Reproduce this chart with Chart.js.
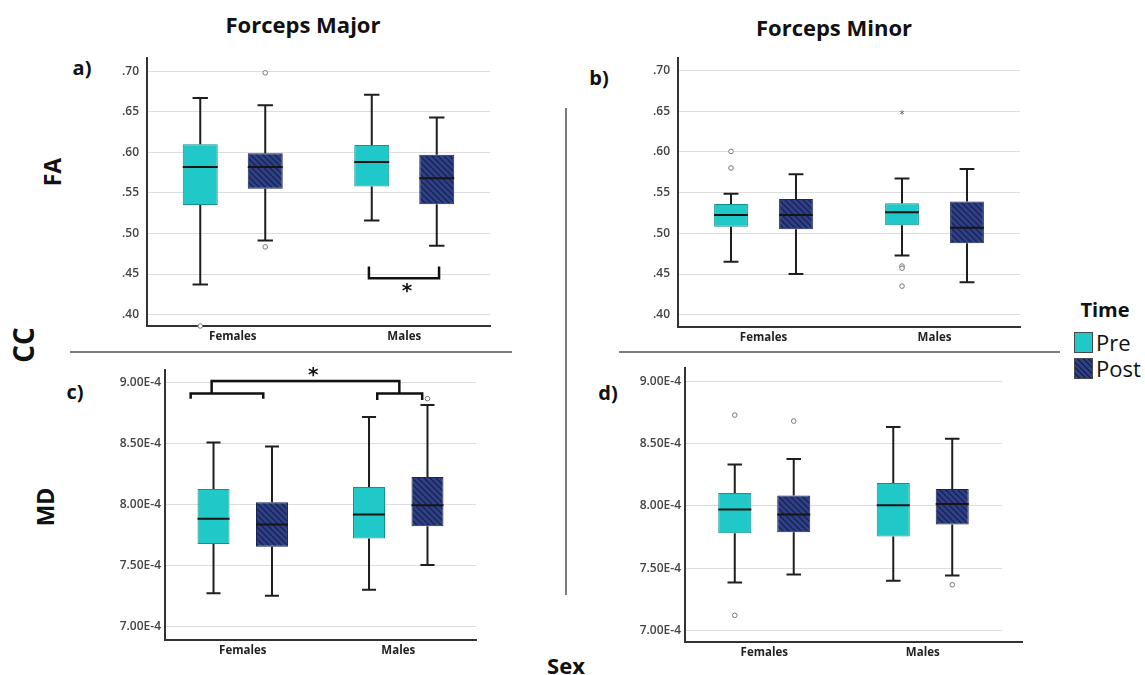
<!DOCTYPE html>
<html><head><meta charset="utf-8">
<script src="https://cdn.jsdelivr.net/npm/chart.js@4"></script>
<style>
body{margin:0;width:1145px;height:675px;background:#fff;position:relative;overflow:hidden;font-family:"Open Sans",sans-serif;}
.t{position:absolute;font-weight:700;color:#111;white-space:nowrap;line-height:1;transform:translate(-50%,-50%);}
.r{transform:translate(-50%,-50%) rotate(-90deg);}
canvas{position:absolute;}
.ln{position:absolute;background:#7c7c7c;}
.sw{position:absolute;width:17px;height:19px;border:1px solid #4a4a4a;}
.lg{position:absolute;font-size:22px;color:#111;line-height:1;transform:translateY(-50%);}
</style></head><body>

<div class="t" style="left:303px;top:24px;font-size:22px;">Forceps Major</div>
<div class="t" style="left:834px;top:27px;font-size:22px;">Forceps Minor</div>
<div class="t" style="left:82px;top:68px;font-size:20px;">a)</div>
<div class="t" style="left:599px;top:78px;font-size:20px;">b)</div>
<div class="t" style="left:75px;top:392px;font-size:20px;">c)</div>
<div class="t" style="left:608px;top:393px;font-size:20px;">d)</div>
<div class="t r" style="left:52px;top:172px;font-size:23px;">FA</div>
<div class="t r" style="left:45px;top:507px;font-size:23px;">MD</div>
<div class="t r" style="left:23px;top:345px;font-size:28px;">CC</div>
<div class="t" style="left:566px;top:665px;font-size:22px;">Sex</div>
<div class="t" style="left:1105px;top:310px;font-size:20px;">Time</div>

<div class="ln" style="left:70px;top:351px;width:442px;height:2px;"></div>
<div class="ln" style="left:619px;top:351px;width:441px;height:2px;"></div>
<div class="ln" style="left:565px;top:108px;width:2px;height:487px;"></div>

<div class="sw" style="left:1074px;top:332px;background:#21c8c8;"></div>
<div class="sw" style="left:1074px;top:358px;background:repeating-linear-gradient(45deg,#2e4088 0px,#2e4088 2.5px,#18234f 2.5px,#18234f 4px);"></div>
<div class="lg" style="left:1096px;top:342px;">Pre</div>
<div class="lg" style="left:1096px;top:368px;">Post</div>

<canvas id="pa" width="403" height="307" style="left:97px;top:43px;"></canvas>
<canvas id="pb" width="402" height="308" style="left:628px;top:43px;"></canvas>
<canvas id="pc" width="391" height="305" style="left:95px;top:359px;"></canvas>
<canvas id="pd" width="415" height="308" style="left:615px;top:357px;"></canvas>

<script>
// ---------- data ----------
const categories = ['Females', 'Males'];
const faTicks = [0.40, 0.45, 0.50, 0.55, 0.60, 0.65, 0.70];
const mdTicks = [7.00e-4, 7.50e-4, 8.00e-4, 8.50e-4, 9.00e-4];

// box statistics per category: [min, q1, median, q3, max]
const faMajorPre  = [[0.437, 0.535, 0.582, 0.610, 0.667], [0.516, 0.558, 0.588, 0.609, 0.671]];
const faMajorPost = [[0.4915, 0.555, 0.582, 0.599, 0.658], [0.485, 0.536, 0.568, 0.597, 0.643]];
const faMajorPreOut  = [[0.386], []];
const faMajorPostOut = [[0.698, 0.4835], []];

const faMinorPre  = [[0.465, 0.508, 0.5225, 0.536, 0.5486], [0.4728, 0.510, 0.526, 0.537, 0.5674]];
const faMinorPost = [[0.450, 0.505, 0.5225, 0.542, 0.5726], [0.440, 0.4877, 0.507, 0.539, 0.579]];
const faMinorPreOut  = [[0.6006, 0.5802], [0.4598, 0.4572, 0.4352]];
const faMinorPostOut = [[], []];
const faMinorPreExtreme = [[], [0.6475]];

const mdMajorPre  = [[7.274e-4, 7.677e-4, 7.883e-4, 8.128e-4, 8.508e-4], [7.302e-4, 7.723e-4, 7.918e-4, 8.144e-4, 8.717e-4]];
const mdMajorPost = [[7.253e-4, 7.655e-4, 7.837e-4, 8.019e-4, 8.476e-4], [7.505e-4, 7.823e-4, 7.995e-4, 8.226e-4, 8.815e-4]];
const mdMajorPreOut  = [[], []];
const mdMajorPostOut = [[], [8.867e-4]];

const mdMinorPre  = [[7.385e-4, 7.781e-4, 7.971e-4, 8.104e-4, 8.332e-4], [7.398e-4, 7.754e-4, 8.005e-4, 8.184e-4, 8.634e-4]];
const mdMinorPost = [[7.449e-4, 7.789e-4, 7.930e-4, 8.083e-4, 8.377e-4], [7.441e-4, 7.850e-4, 8.016e-4, 8.136e-4, 8.540e-4]];
const mdMinorPreOut  = [[8.730e-4, 7.120e-4], []];
const mdMinorPostOut = [[8.682e-4], [7.366e-4]];

// significance brackets (x in category units, y in data units)
const faMajorBrackets = [{x1: 0.794, x2: 1.203, yLine: 0.4448, yArm: 0.4593}];
const faMajorStars = [{x: 1.016, y: 0.4327}];
const mdMajorBrackets = [
  {x1: -0.335, x2: 0.132, yLine: 8.910e-4, yArm: 8.866e-4},
  {x1: 0.865, x2: 1.154, yLine: 8.910e-4, yArm: 8.856e-4},
  {x1: -0.200, x2: 1.007, yLine: 9.011e-4, yArm: 8.910e-4}
];
const mdMajorStars = [{x: 0.454, y: 9.084e-4}];

// ---------- styling ----------
const PRE = '#21c8c8', PRE_EDGE = '#15908f';
const POST_EDGE = '#1b2554';
function hatch() {
  const c = document.createElement('canvas'); c.width = 6; c.height = 6;
  const g = c.getContext('2d');
  g.fillStyle = '#2e4088'; g.fillRect(0, 0, 6, 6);
  g.strokeStyle = '#18234f'; g.lineWidth = 1.3;
  g.beginPath();
  g.moveTo(-3, -3); g.lineTo(9, 9);
  g.moveTo(-3, 3); g.lineTo(3, 9);
  g.moveTo(3, -3); g.lineTo(9, 3);
  g.stroke();
  return g.createPattern(c, 'repeat');
}
const POST = hatch();

const fmtFA = v => v.toFixed(2).replace(/^0/, '');
const fmtMD = v => (v * 1e4).toFixed(2) + 'E-4';

const boxPlugin = {
  id: 'boxw',
  afterDatasetsDraw(chart, args, opts) {
    const ctx = chart.ctx, ys = chart.scales.y, xs = chart.scales.x;
    const py = v => ys.getPixelForValue(v);
    chart.data.datasets.forEach((ds, di) => {
      const meta = chart.getDatasetMeta(di);
      meta.data.forEach((bar, i) => {
        const s = ds.stats[i], x = bar.x, hw = bar.width / 2, cw = hw * 0.44;
        ctx.save();
        ctx.strokeStyle = '#1e1e1e'; ctx.lineWidth = 2; ctx.lineCap = 'butt';
        ctx.beginPath();
        ctx.moveTo(x, py(s[3])); ctx.lineTo(x, py(s[4]));
        ctx.moveTo(x, py(s[1])); ctx.lineTo(x, py(s[0]));
        ctx.moveTo(x - cw, py(s[4])); ctx.lineTo(x + cw, py(s[4]));
        ctx.moveTo(x - cw, py(s[0])); ctx.lineTo(x + cw, py(s[0]));
        ctx.stroke();
        ctx.beginPath(); ctx.lineWidth = 2; ctx.strokeStyle = '#151515';
        ctx.moveTo(x - hw, py(s[2])); ctx.lineTo(x + hw, py(s[2]));
        ctx.stroke();
        ctx.lineWidth = 1; ctx.strokeStyle = '#777'; ctx.fillStyle = '#fff';
        (ds.outliers[i] || []).forEach(v => {
          ctx.beginPath(); ctx.arc(x, py(v), 2.3, 0, Math.PI * 2); ctx.fill(); ctx.stroke();
        });
        ctx.fillStyle = '#555'; ctx.font = '10px "DejaVu Sans"'; ctx.textAlign = 'center'; ctx.textBaseline = 'middle';
        ((ds.extremes || [])[i] || []).forEach(v => { ctx.fillText('*', x, py(v) + 2); });
        ctx.restore();
      });
    });
    const p0 = xs.getPixelForValue(0), cwid = xs.getPixelForValue(1) - p0;
    const px = u => p0 + u * cwid;
    ctx.save();
    ctx.strokeStyle = '#111'; ctx.lineWidth = 2.5; ctx.lineJoin = 'miter';
    (opts.brackets || []).forEach(b => {
      ctx.beginPath();
      ctx.moveTo(px(b.x1), py(b.yArm)); ctx.lineTo(px(b.x1), py(b.yLine));
      ctx.lineTo(px(b.x2), py(b.yLine)); ctx.lineTo(px(b.x2), py(b.yArm));
      ctx.stroke();
    });
    ctx.fillStyle = '#111'; ctx.font = 'bold 20px "DejaVu Sans"'; ctx.textAlign = 'center'; ctx.textBaseline = 'middle';
    (opts.stars || []).forEach(s => ctx.fillText('*', px(s.x), py(s.y) + 4));
    if (opts.extendX) {
      const a = chart.chartArea;
      ctx.strokeStyle = '#333'; ctx.lineWidth = 2;
      ctx.beginPath(); ctx.moveTo(a.right, a.bottom); ctx.lineTo(a.right + opts.extendX, a.bottom); ctx.stroke();
    }
    ctx.restore();
  }
};

function makePanel(id, pre, post, preOut, postOut, preExt, ticks, fmt, lay, ann) {
  new Chart(document.getElementById(id), {
    type: 'bar',
    data: {
      labels: categories,
      datasets: [
        {label: 'Pre', data: pre.map(s => [s[1], s[3]]), stats: pre, outliers: preOut, extremes: preExt,
         backgroundColor: PRE, borderColor: PRE_EDGE, borderWidth: 1, borderSkipped: false,
         categoryPercentage: lay.cp, barPercentage: lay.bp},
        {label: 'Post', data: post.map(s => [s[1], s[3]]), stats: post, outliers: postOut,
         backgroundColor: POST, borderColor: POST_EDGE, borderWidth: 1, borderSkipped: false,
         categoryPercentage: lay.cp, barPercentage: lay.bp}
      ]
    },
    options: {
      responsive: false, animation: false, events: [],
      layout: {padding: {top: lay.pt, right: lay.pr, left: 0, bottom: 0}},
      plugins: {legend: {display: false}, tooltip: {enabled: false}, boxw: ann},
      scales: {
        x: {
          grid: {color: 'rgba(0,0,0,0)', drawTicks: false},
          border: {color: '#333', width: 2},
          ticks: {color: '#222', padding: 4, font: {family: 'Open Sans', size: 11.5, weight: 'bold'}},
          afterFit(s) { s.height = lay.xh; }
        },
        y: {
          min: lay.ymin, max: lay.ymax,
          grid: {color: '#dedede', lineWidth: 1, drawTicks: false},
          border: {color: '#333', width: 2},
          ticks: {color: '#444', padding: lay.tp, callback: fmt, font: {family: 'Open Sans', size: 12, weight: '600'}},
          afterBuildTicks(s) { s.ticks = ticks.map(v => ({value: v})); },
          afterFit(s) { s.width = lay.yw; }
        }
      }
    },
    plugins: [boxPlugin]
  });
}

makePanel('pa', faMajorPre, faMajorPost, faMajorPreOut, faMajorPostOut, [[], []], faTicks, fmtFA,
  {ymin: 0.386, ymax: 0.716, yw: 50, pt: 10, pr: 10, xh: 24, cp: 0.758, bp: 0.538, tp: 8},
  {brackets: faMajorBrackets, stars: faMajorStars});
makePanel('pb', faMinorPre, faMinorPost, faMinorPreOut, faMinorPostOut, faMinorPreExtreme, faTicks, fmtFA,
  {ymin: 0.385, ymax: 0.715, yw: 50, pt: 10, pr: 10, xh: 24, cp: 0.76, bp: 0.52, tp: 8},
  {});
makePanel('pc', mdMajorPre, mdMajorPost, mdMajorPreOut, mdMajorPostOut, [[], []], mdTicks, fmtMD,
  {ymin: 6.891e-4, ymax: 9.10e-4, yw: 70, pt: 10, pr: 10, xh: 24, cp: 0.752, bp: 0.547, tp: 4},
  {brackets: mdMajorBrackets, stars: mdMajorStars});
makePanel('pd', mdMinorPre, mdMinorPost, mdMinorPreOut, mdMinorPostOut, [[], []], mdTicks, fmtMD,
  {ymin: 6.906e-4, ymax: 9.107e-4, yw: 70, pt: 10, pr: 28, xh: 23, cp: 0.744, bp: 0.56, tp: 4},
  {extendX: 21});
</script>
</body></html>
